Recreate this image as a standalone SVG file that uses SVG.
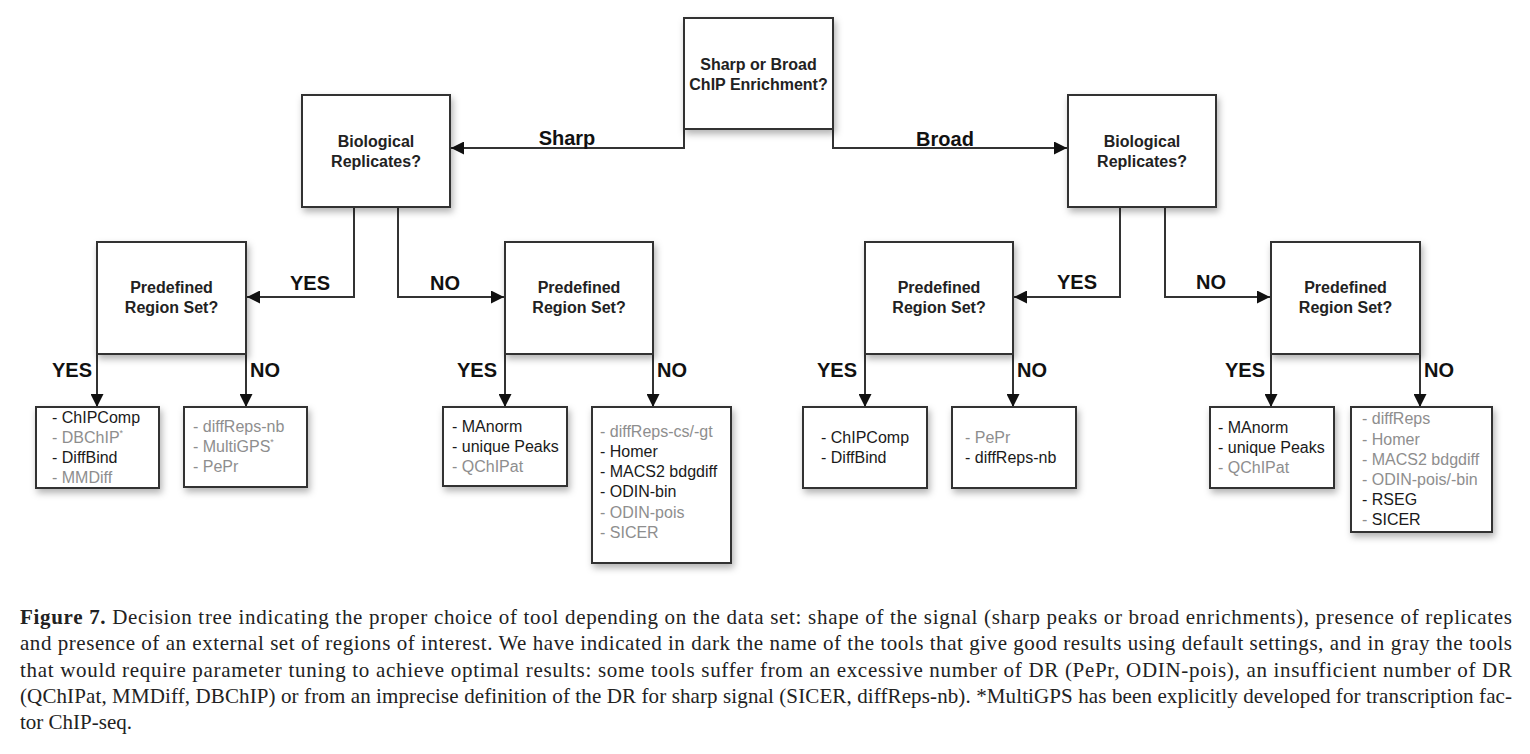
<svg xmlns="http://www.w3.org/2000/svg" width="1530" height="754" viewBox="0 0 1530 754">
<style>
.box{fill:#fff;stroke:#333;stroke-width:2}
.q{font-family:"Liberation Sans",Arial,sans-serif;font-size:16px;font-weight:bold;fill:#222;text-anchor:middle}
.lbl{font-family:"Liberation Sans",Arial,sans-serif;font-size:20px;font-weight:bold;fill:#111}
.mid{text-anchor:middle}
.end{text-anchor:end}
.t{font-family:"Liberation Sans",Arial,sans-serif;font-size:16px;fill:#1a1a1a}
.g{fill:#8e8e8e}
.sup{font-size:9px}
.con{fill:none;stroke:#333;stroke-width:2;marker-end:url(#ah)}
.cap{font-family:"Liberation Serif","Times New Roman",serif;font-size:21px;fill:#222}
</style>
<defs>
<marker id="ah" viewBox="0 0 12 12" refX="12" refY="6" markerWidth="13" markerHeight="13" markerUnits="userSpaceOnUse" orient="auto">
<path d="M0,0 L12,6 L0,12 z" fill="#111"/>
</marker>
<filter id="sh" x="-10%" y="-10%" width="130%" height="140%">
<feDropShadow dx="2" dy="4" stdDeviation="3.5" flood-color="#000" flood-opacity="0.3"/>
</filter>
</defs>
<rect width="1530" height="754" fill="#fff"/>

<g id="connectors">
<path class="con" d="M684,129 V148 H451"/>
<path class="con" d="M833,129 V148 H1067"/>
<path class="con" d="M354,207 V297 H247"/>
<path class="con" d="M398,207 V297 H504"/>
<path class="con" d="M1120,207 V297 H1014"/>
<path class="con" d="M1165,207 V297 H1270"/>
<path class="con" d="M97,354 V407"/>
<path class="con" d="M246,354 V407"/>
<path class="con" d="M505,354 V407"/>
<path class="con" d="M653,354 V407"/>
<path class="con" d="M865,354 V407"/>
<path class="con" d="M1013,354 V407"/>
<path class="con" d="M1271,354 V407"/>
<path class="con" d="M1420,354 V407"/>
<text class="lbl mid" x="567" y="145">Sharp</text>
<text class="lbl mid" x="945" y="146">Broad</text>
<text class="lbl mid" x="310" y="290">YES</text>
<text class="lbl mid" x="445" y="290">NO</text>
<text class="lbl mid" x="1077" y="289">YES</text>
<text class="lbl mid" x="1211" y="289">NO</text>
<text class="lbl end" x="92" y="377">YES</text>
<text class="lbl" x="250" y="377">NO</text>
<text class="lbl end" x="497" y="377">YES</text>
<text class="lbl" x="657" y="377">NO</text>
<text class="lbl end" x="857" y="377">YES</text>
<text class="lbl" x="1017" y="377">NO</text>
<text class="lbl end" x="1265" y="377">YES</text>
<text class="lbl" x="1424" y="377">NO</text>
</g>

<g id="root">
<rect class="box" x="684" y="18" width="149" height="111" filter="url(#sh)"/>
<text class="q" x="758.5" y="70">Sharp or Broad</text>
<text class="q" x="758.5" y="90">ChIP Enrichment?</text>
</g>

<g id="bio-sharp">
<rect class="box" x="302" y="95" width="148" height="112" filter="url(#sh)"/>
<text class="q" x="376" y="147">Biological</text>
<text class="q" x="376" y="167">Replicates?</text>
</g>
<g id="bio-broad">
<rect class="box" x="1068" y="95" width="148" height="112" filter="url(#sh)"/>
<text class="q" x="1142" y="147">Biological</text>
<text class="q" x="1142" y="167">Replicates?</text>
</g>

<g id="pred-sharp-yes">
<rect class="box" x="97" y="242" width="149" height="112" filter="url(#sh)"/>
<text class="q" x="171.5" y="293">Predefined</text>
<text class="q" x="171.5" y="313">Region Set?</text>
</g>
<g id="pred-sharp-no">
<rect class="box" x="505" y="242" width="148" height="112" filter="url(#sh)"/>
<text class="q" x="579" y="293">Predefined</text>
<text class="q" x="579" y="313">Region Set?</text>
</g>
<g id="pred-broad-yes">
<rect class="box" x="865" y="242" width="148" height="112" filter="url(#sh)"/>
<text class="q" x="939" y="293">Predefined</text>
<text class="q" x="939" y="313">Region Set?</text>
</g>
<g id="pred-broad-no">
<rect class="box" x="1271" y="242" width="149" height="112" filter="url(#sh)"/>
<text class="q" x="1345.5" y="293">Predefined</text>
<text class="q" x="1345.5" y="313">Region Set?</text>
</g>

<g id="leaf-sharp-rep-yes">
<rect class="box" x="36" y="407" width="123" height="81" filter="url(#sh)"/>
<text class="t" x="52" y="423">- ChIPComp</text>
<text class="t g" x="52" y="443">- DBChIP<tspan class="sup" dy="-7">*</tspan></text>
<text class="t" x="52" y="463">- DiffBind</text>
<text class="t g" x="52" y="483">- MMDiff</text>
</g>
<g id="leaf-sharp-rep-no">
<rect class="box" x="184" y="407" width="123" height="80" filter="url(#sh)"/>
<text class="t g" x="193" y="432">- diffReps-nb</text>
<text class="t g" x="193" y="452">- MultiGPS<tspan class="sup" dy="-7">*</tspan></text>
<text class="t g" x="193" y="472">- PePr</text>
</g>
<g id="leaf-sharp-norep-yes">
<rect class="box" x="443" y="407" width="124" height="79" filter="url(#sh)"/>
<text class="t" x="452" y="432">- MAnorm</text>
<text class="t" x="452" y="452">- unique Peaks</text>
<text class="t g" x="452" y="472">- QChIPat</text>
</g>
<g id="leaf-sharp-norep-no">
<rect class="box" x="592" y="407" width="139" height="156" filter="url(#sh)"/>
<text class="t g" x="600" y="437">- diffReps-cs/-gt</text>
<text class="t" x="600" y="457">- Homer</text>
<text class="t" x="600" y="477">- MACS2 bdgdiff</text>
<text class="t" x="600" y="497">- ODIN-bin</text>
<text class="t g" x="600" y="518">- ODIN-pois</text>
<text class="t g" x="600" y="538">- SICER</text>
</g>
<g id="leaf-broad-rep-yes">
<rect class="box" x="803" y="407" width="124" height="81" filter="url(#sh)"/>
<text class="t" x="821" y="443">- ChIPComp</text>
<text class="t" x="821" y="463">- DiffBind</text>
</g>
<g id="leaf-broad-rep-no">
<rect class="box" x="952" y="407" width="124" height="81" filter="url(#sh)"/>
<text class="t g" x="965" y="443">- PePr</text>
<text class="t" x="965" y="463">- diffReps-nb</text>
</g>
<g id="leaf-broad-norep-yes">
<rect class="box" x="1210" y="407" width="124" height="81" filter="url(#sh)"/>
<text class="t" x="1218" y="433">- MAnorm</text>
<text class="t" x="1218" y="453">- unique Peaks</text>
<text class="t g" x="1218" y="473">- QChIPat</text>
</g>
<g id="leaf-broad-norep-no">
<rect class="box" x="1351" y="407" width="141" height="125" filter="url(#sh)"/>
<text class="t g" x="1362" y="424">- diffReps</text>
<text class="t g" x="1362" y="445">- Homer</text>
<text class="t g" x="1362" y="465">- MACS2 bdgdiff</text>
<text class="t g" x="1362" y="485">- ODIN-pois/-bin</text>
<text class="t" x="1362" y="505">- RSEG</text>
<text class="t" x="1362" y="525"><tspan class="g">-</tspan> SICER</text>
</g>

<g id="caption">
<text class="cap" x="20" y="624" textLength="1492" lengthAdjust="spacing"><tspan font-weight="bold">Figure 7.</tspan> Decision tree indicating the proper choice of tool depending on the data set: shape of the signal (sharp peaks or broad enrichments), presence of replicates</text>
<text class="cap" x="20" y="650" textLength="1492" lengthAdjust="spacing">and presence of an external set of regions of interest. We have indicated in dark the name of the tools that give good results using default settings, and in gray the tools</text>
<text class="cap" x="20" y="677" textLength="1492" lengthAdjust="spacing">that would require parameter tuning to achieve optimal results: some tools suffer from an excessive number of DR (PePr, ODIN-pois), an insufficient number of DR</text>
<text class="cap" x="20" y="703" textLength="1492" lengthAdjust="spacing">(QChIPat, MMDiff, DBChIP) or from an imprecise definition of the DR for sharp signal (SICER, diffReps-nb). *MultiGPS has been explicitly developed for transcription fac-</text>
<text class="cap" x="20" y="729">tor ChIP-seq.</text>
</g>
</svg>
